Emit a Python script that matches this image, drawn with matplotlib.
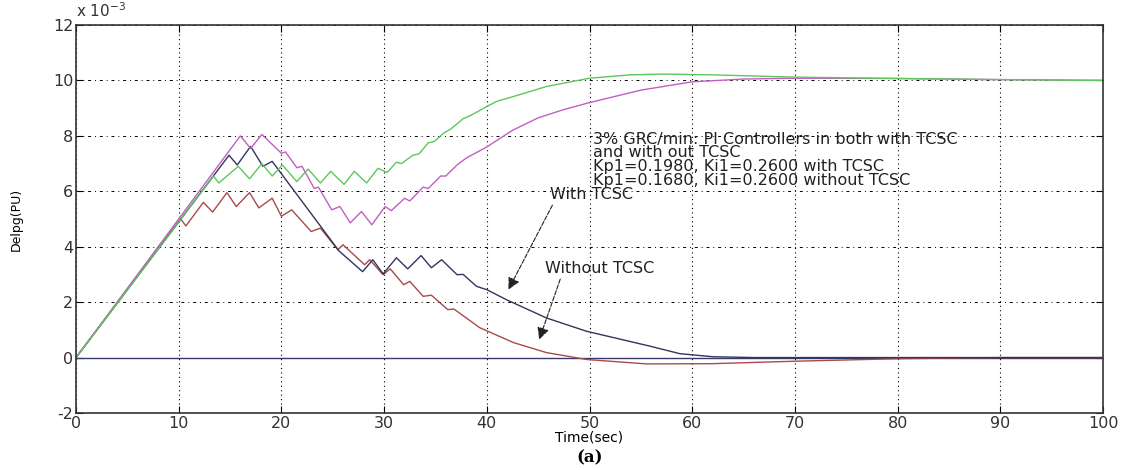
import matplotlib
matplotlib.use('Agg')  # no display
import matplotlib.pyplot as plt

plt.rcParams['axes.unicode_minus'] = False

# --- data (values in units of 1e-3 pu) ---
green_t = [0, 13.4, 13.9, 15.8, 16.9, 18.1, 19.1, 20.1, 21.5, 22.6, 23.8, 24.8, 26.1, 27.1, 28.3, 29.4,
           30.3, 31.2, 31.7, 32.8, 33.4, 34.3, 34.9, 35.8, 36.5, 37.7, 38.5, 40.0, 41.0, 42.6, 45.8,
           50.0, 53.9, 57.2, 62.0, 70.0, 80.0, 90.0, 100.0]
green_y = [0, 6.55, 6.3, 6.9, 6.45, 7.0, 6.55, 6.95, 6.35, 6.8, 6.3, 6.72, 6.25, 6.72, 6.3, 6.83,
           6.68, 7.05, 7.0, 7.3, 7.35, 7.75, 7.8, 8.1, 8.25, 8.62, 8.75, 9.06, 9.25, 9.42, 9.78,
           10.08, 10.2, 10.23, 10.2, 10.12, 10.07, 10.03, 10.0]

magenta_t = [0, 16.0, 17.0, 18.1, 20.0, 20.4, 21.5, 22.0, 23.2, 23.6, 24.9, 25.7, 26.7, 27.8, 28.8,
             30.1, 30.7, 32.0, 32.5, 33.8, 34.3, 35.5, 36.0, 37.1, 38.0, 40.0, 42.5, 45.0, 47.5,
             50.0, 55.0, 60.0, 65.0, 70.0, 80.0, 90.0, 100.0]
magenta_y = [0, 8.0, 7.55, 8.05, 7.37, 7.42, 6.85, 6.9, 6.1, 6.15, 5.33, 5.45, 4.86, 5.27, 4.79,
             5.45, 5.3, 5.75, 5.65, 6.15, 6.1, 6.55, 6.55, 6.95, 7.2, 7.6, 8.2, 8.65, 8.95,
             9.2, 9.65, 9.95, 10.05, 10.08, 10.07, 10.03, 10.0]

navy_t = [0, 14.9, 15.7, 17.0, 18.2, 19.1, 25.6, 27.9, 28.9, 29.9, 31.2, 32.3, 33.6, 34.6, 35.6,
          37.1, 37.7, 39.0, 40.0, 41.9, 45.8, 49.7, 55.9, 58.8, 62.0, 66.0, 100.0]
navy_y = [0, 7.3, 6.95, 7.62, 6.9, 7.08, 3.85, 3.1, 3.53, 3.02, 3.6, 3.2, 3.68, 3.24, 3.53,
          2.99, 3.0, 2.57, 2.45, 2.09, 1.43, 0.95, 0.41, 0.14, 0.03, 0.0, 0.0]

red_t = [0, 10.2, 10.7, 12.4, 13.3, 14.7, 15.6, 16.9, 17.8, 19.1, 20.0, 21.0, 22.9, 23.8, 25.5,
         26.0, 28.1, 28.6, 29.9, 30.6, 31.9, 32.5, 33.8, 34.6, 36.2, 36.8, 39.3, 42.6, 45.8,
         49.7, 55.6, 62.0, 70.2, 80.2, 90.0, 100.0]
red_y = [0, 5.0, 4.75, 5.6, 5.25, 5.95, 5.45, 5.95, 5.4, 5.75, 5.1, 5.33, 4.55, 4.67, 3.89,
         4.07, 3.35, 3.53, 2.99, 3.2, 2.63, 2.75, 2.21, 2.25, 1.73, 1.75, 1.08, 0.54, 0.18,
         -0.07, -0.23, -0.22, -0.13, -0.04, 0.0, 0.0]

zero_t = [0, 100]
zero_y = [0, 0]

x_ticks = list(range(0, 101, 10))
y_ticks = list(range(-2, 13, 2))

fig = plt.figure(figsize=(11.26, 4.70), dpi=100)
ax = fig.add_axes([0.0675, 0.1213, 0.9121, 0.8255])

ax.plot(zero_t, zero_y, color='#3a3a6e', lw=1.0)
ax.plot(red_t, red_y, color='#a84a4a', lw=1.0)
ax.plot(navy_t, navy_y, color='#34345e', lw=1.0)
ax.plot(magenta_t, magenta_y, color='#c25ec2', lw=1.0)
ax.plot(green_t, green_y, color='#5cc85c', lw=1.0)

ax.set_xlim(0, 100)
ax.set_ylim(-2, 12)
ax.set_xticks(x_ticks)
ax.set_yticks(y_ticks)
ax.tick_params(direction='in', top=True, right=True, length=5, labelsize=11.5,
               labelcolor='#333333', pad=2)
for sp in ax.spines.values():
    sp.set_color('#333333')
    sp.set_linewidth(1.2)

# MATLAB-like grid: dotted verticals, dash-dot horizontals
ax.xaxis.grid(True, linestyle=(0, (1, 3)), color='black', lw=0.8)
ax.yaxis.grid(True, linestyle=(0, (3, 4, 1, 4)), color='black', lw=0.7)
ax.set_axisbelow(True)

ax.text(0.0, 1.012, 'x 10$^{-3}$', transform=ax.transAxes, fontsize=11, color='#333333',
        ha='left', va='bottom')
ax.set_ylabel('Delpg(PU)', fontsize=9, labelpad=22)
ax.set_xlabel('Time(sec)', fontsize=10, labelpad=0)

ax.text(50.3, 8.15, '3% GRC/min: PI Controllers in both with TCSC\nand with out TCSC\n'
        'Kp1=0.1980, Ki1=0.2600 with TCSC\nKp1=0.1680, Ki1=0.2600 without TCSC',
        fontsize=11.5, color='#222222', ha='left', va='top', linespacing=0.9)

ax.annotate('With TCSC', xy=(42.1, 2.45), xytext=(46.2, 5.87), fontsize=11.5, color='#222222',
            ha='left', va='center',
            arrowprops=dict(arrowstyle='-|>', color='#222222', lw=0.8, mutation_scale=18,
                            shrinkA=0, shrinkB=0, linestyle=(0, (4, 1.5)),
                            relpos=(0.05, 0.1)))
ax.annotate('Without TCSC', xy=(45.1, 0.65), xytext=(45.7, 3.2), fontsize=11.5, color='#222222',
            ha='left', va='center',
            arrowprops=dict(arrowstyle='-|>', color='#222222', lw=0.8, mutation_scale=18,
                            shrinkA=0, shrinkB=0, linestyle=(0, (4, 1.5)),
                            relpos=(0.15, 0.1)))

fig.text(590 / 1126, 1 - 458 / 470, '(a)', fontsize=12, fontweight='bold', family='serif',
         ha='center', va='center')

fig.savefig('out.png', dpi=100)
plt.close(fig)
